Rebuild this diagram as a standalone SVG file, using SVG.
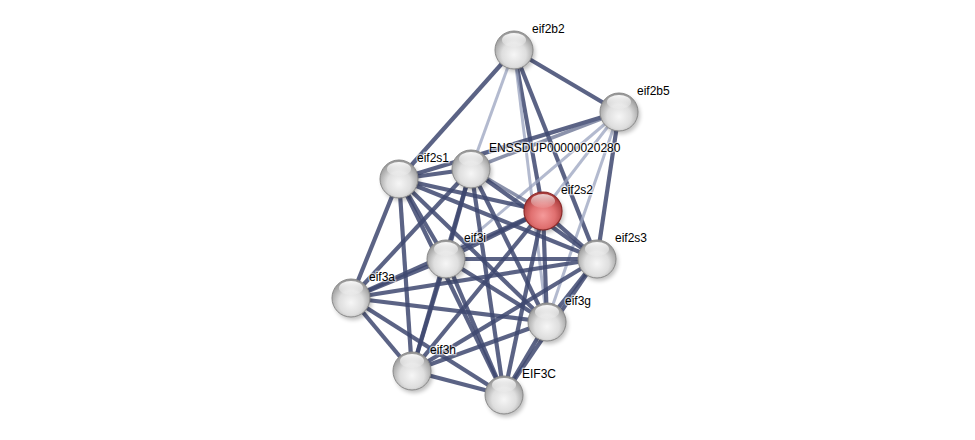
<svg xmlns="http://www.w3.org/2000/svg" width="975" height="440" viewBox="0 0 975 440">
<defs>
<radialGradient id="gw" cx="50%" cy="62%" r="58%">
<stop offset="0%" stop-color="#f6f6f6"/>
<stop offset="55%" stop-color="#dedede"/>
<stop offset="100%" stop-color="#9a9a9a"/>
</radialGradient>
<radialGradient id="gr" cx="50%" cy="62%" r="58%">
<stop offset="0%" stop-color="#f59a9a"/>
<stop offset="55%" stop-color="#e07070"/>
<stop offset="100%" stop-color="#a83a3a"/>
</radialGradient>
<linearGradient id="hl" x1="0" y1="0" x2="0" y2="1">
<stop offset="0%" stop-color="#ffffff" stop-opacity="0.95"/>
<stop offset="100%" stop-color="#ffffff" stop-opacity="0.1"/>
</linearGradient>
<filter id="sh" x="-50%" y="-50%" width="200%" height="200%">
<feGaussianBlur stdDeviation="2"/>
</filter>
<g id="wsphere">
<circle cx="2" cy="3" r="19" fill="#000" opacity="0.25" filter="url(#sh)"/>
<circle r="19" fill="url(#gw)" stroke="#8a8a8a" stroke-width="1"/>
<ellipse cx="0" cy="-10" rx="12" ry="7" fill="url(#hl)"/>
</g>
<g id="rsphere">
<circle cx="2" cy="3" r="19" fill="#000" opacity="0.25" filter="url(#sh)"/>
<circle r="19" fill="url(#gr)" stroke="#8c2a2a" stroke-width="1.2"/>
<ellipse cx="0" cy="-10" rx="12" ry="7" fill="url(#hl)" opacity="0.8"/>
</g>
</defs>
<style>
.e{stroke:#3e4870;stroke-width:4.2;stroke-opacity:0.85;fill:none;stroke-linecap:butt}
.m{stroke:#5a6488;stroke-width:3.5;stroke-opacity:0.7;fill:none}
.l{stroke:#9aa3bf;stroke-width:3;stroke-opacity:0.75;fill:none}
.t{font-family:"Liberation Sans",Arial,sans-serif;font-size:12px;fill:#000;stroke:#fff;stroke-width:2.5;stroke-opacity:0.6;paint-order:stroke}
</style>
<rect width="975" height="440" fill="#fff"/>
<g id="edges">
<line class="e" x1="514" y1="50" x2="399" y2="179"/>
<line class="e" x1="514" y1="50" x2="619" y2="112"/>
<line class="l" x1="514" y1="50" x2="471" y2="169"/>
<line class="e" x1="514" y1="50" x2="543" y2="211"/>
<line class="e" x1="514" y1="50" x2="597" y2="259"/>
<line class="l" x1="514" y1="50" x2="547" y2="322"/>
<line class="e" x1="619" y1="112" x2="399" y2="179"/>
<line class="m" x1="619" y1="112" x2="471" y2="169"/>
<line class="l" x1="619" y1="112" x2="446" y2="259"/>
<line class="l" x1="619" y1="112" x2="543" y2="211"/>
<line class="l" x1="619" y1="112" x2="547" y2="322"/>
<line class="e" x1="619" y1="112" x2="597" y2="259"/>
<line class="e" x1="471" y1="169" x2="399" y2="179"/>
<line class="m" x1="471" y1="169" x2="543" y2="211"/>
<line class="e" x1="471" y1="169" x2="446" y2="259"/>
<line class="e" x1="471" y1="169" x2="597" y2="259"/>
<line class="e" x1="471" y1="169" x2="351" y2="298"/>
<line class="e" x1="471" y1="169" x2="547" y2="322"/>
<line class="e" x1="471" y1="169" x2="412" y2="371"/>
<line class="e" x1="471" y1="169" x2="504" y2="395"/>
<line class="e" x1="399" y1="179" x2="543" y2="211"/>
<line class="e" x1="399" y1="179" x2="446" y2="259"/>
<line class="e" x1="399" y1="179" x2="597" y2="259"/>
<line class="e" x1="399" y1="179" x2="351" y2="298"/>
<line class="e" x1="399" y1="179" x2="547" y2="322"/>
<line class="e" x1="399" y1="179" x2="412" y2="371"/>
<line class="e" x1="399" y1="179" x2="504" y2="395"/>
<line class="e" x1="543" y1="211" x2="446" y2="259"/>
<line class="e" x1="543" y1="211" x2="597" y2="259"/>
<line class="e" x1="543" y1="211" x2="351" y2="298"/>
<line class="e" x1="543" y1="211" x2="547" y2="322"/>
<line class="e" x1="543" y1="211" x2="412" y2="371"/>
<line class="e" x1="543" y1="211" x2="504" y2="395"/>
<line class="e" x1="446" y1="259" x2="597" y2="259"/>
<line class="e" x1="446" y1="259" x2="351" y2="298"/>
<line class="e" x1="446" y1="259" x2="547" y2="322"/>
<line class="e" x1="446" y1="259" x2="412" y2="371"/>
<line class="e" x1="446" y1="259" x2="504" y2="395"/>
<line class="e" x1="597" y1="259" x2="351" y2="298"/>
<line class="e" x1="597" y1="259" x2="547" y2="322"/>
<line class="e" x1="597" y1="259" x2="412" y2="371"/>
<line class="e" x1="597" y1="259" x2="504" y2="395"/>
<line class="e" x1="351" y1="298" x2="547" y2="322"/>
<line class="e" x1="351" y1="298" x2="412" y2="371"/>
<line class="e" x1="351" y1="298" x2="504" y2="395"/>
<line class="e" x1="547" y1="322" x2="412" y2="371"/>
<line class="e" x1="547" y1="322" x2="504" y2="395"/>
<line class="e" x1="412" y1="371" x2="504" y2="395"/>
</g>
<g id="eif2b2"><use href="#wsphere" x="514" y="50"/><text class="t" x="532" y="33">eif2b2</text></g>
<g id="eif2b5"><use href="#wsphere" x="619" y="112"/><text class="t" x="637" y="95">eif2b5</text></g>
<g id="eif2s1"><use href="#wsphere" x="399" y="179"/><text class="t" x="417" y="162">eif2s1</text></g>
<g id="ENSSDUP00000020280"><use href="#wsphere" x="471" y="169"/><text class="t" x="489" y="152">ENSSDUP00000020280</text></g>
<g id="eif2s2"><use href="#rsphere" x="543" y="211"/><text class="t" x="561" y="194">eif2s2</text></g>
<g id="eif3i"><use href="#wsphere" x="446" y="259"/><text class="t" x="464" y="242">eif3i</text></g>
<g id="eif2s3"><use href="#wsphere" x="597" y="259"/><text class="t" x="615" y="242">eif2s3</text></g>
<g id="eif3a"><use href="#wsphere" x="351" y="298"/><text class="t" x="369" y="281">eif3a</text></g>
<g id="eif3g"><use href="#wsphere" x="547" y="322"/><text class="t" x="565" y="305">eif3g</text></g>
<g id="eif3h"><use href="#wsphere" x="412" y="371"/><text class="t" x="430" y="354">eif3h</text></g>
<g id="EIF3C"><use href="#wsphere" x="504" y="395"/><text class="t" x="522" y="378">EIF3C</text></g>
</svg>
